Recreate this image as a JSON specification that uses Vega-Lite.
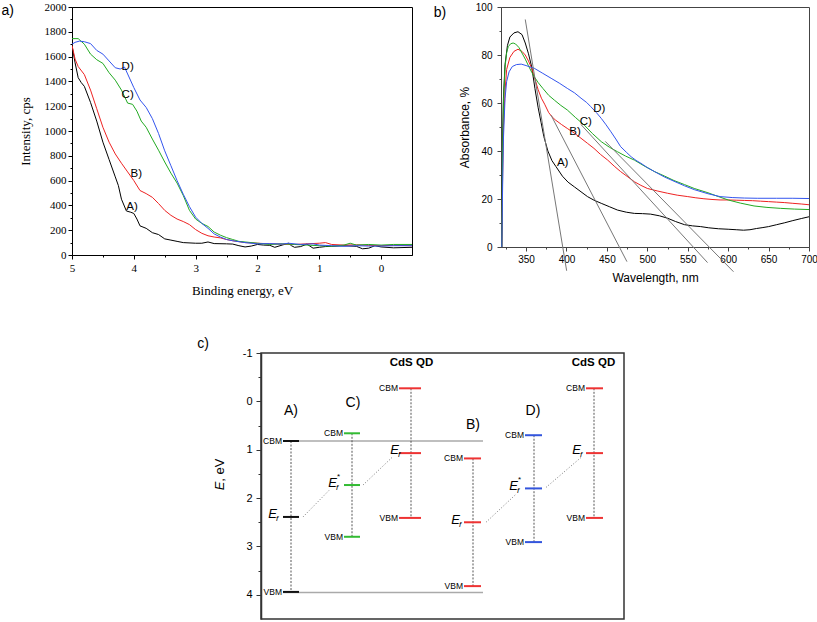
{
  "$schema": "https://vega.github.io/schema/vega-lite/v6.json",
  "padding": 0,
  "background": "white",
  "spacing": 38,
  "config": {"view": {"stroke": null}, "font": "Liberation Sans"},
  "resolve": {"scale": {"color": "independent"}},
  "datasets": {
    "xps": [
      {"s":"A","E":5,"I":1690},{"s":"A","E":4.95,"I":1550},{"s":"A","E":4.9,"I":1430},{"s":"A","E":4.85,"I":1390},{"s":"A","E":4.8,"I":1360},{"s":"A","E":4.7,"I":1230},{"s":"A","E":4.6,"I":1080},{"s":"A","E":4.5,"I":910},{"s":"A","E":4.4,"I":770},{"s":"A","E":4.3,"I":630},{"s":"A","E":4.25,"I":560},{"s":"A","E":4.2,"I":450},{"s":"A","E":4.12,"I":355},{"s":"A","E":4.05,"I":345},{"s":"A","E":4.0,"I":335},{"s":"A","E":3.95,"I":290},{"s":"A","E":3.9,"I":235},{"s":"A","E":3.8,"I":215},{"s":"A","E":3.7,"I":180},{"s":"A","E":3.6,"I":165},{"s":"A","E":3.5,"I":130},{"s":"A","E":3.4,"I":120},{"s":"A","E":3.3,"I":110},{"s":"A","E":3.2,"I":100},{"s":"A","E":3.0,"I":95},{"s":"A","E":2.9,"I":95},{"s":"A","E":2.8,"I":105},{"s":"A","E":2.7,"I":92},{"s":"A","E":2.5,"I":90},{"s":"A","E":2.4,"I":88},{"s":"A","E":2.3,"I":75},{"s":"A","E":2.2,"I":65},{"s":"A","E":2.1,"I":72},{"s":"A","E":2.0,"I":85},{"s":"A","E":1.9,"I":80},{"s":"A","E":1.8,"I":78},{"s":"A","E":1.72,"I":62},{"s":"A","E":1.6,"I":80},{"s":"A","E":1.5,"I":95},{"s":"A","E":1.45,"I":75},{"s":"A","E":1.4,"I":62},{"s":"A","E":1.3,"I":68},{"s":"A","E":1.2,"I":88},{"s":"A","E":1.1,"I":55},{"s":"A","E":1.0,"I":62},{"s":"A","E":0.9,"I":68},{"s":"A","E":0.8,"I":70},{"s":"A","E":0.6,"I":75},{"s":"A","E":0.4,"I":70},{"s":"A","E":0.3,"I":50},{"s":"A","E":0.2,"I":55},{"s":"A","E":0.1,"I":75},{"s":"A","E":0.0,"I":65},{"s":"A","E":-0.2,"I":58},{"s":"A","E":-0.5,"I":62},
      {"s":"B","E":5,"I":1690},{"s":"B","E":4.95,"I":1580},{"s":"B","E":4.9,"I":1520},{"s":"B","E":4.8,"I":1455},{"s":"B","E":4.7,"I":1330},{"s":"B","E":4.6,"I":1180},{"s":"B","E":4.5,"I":1030},{"s":"B","E":4.4,"I":910},{"s":"B","E":4.3,"I":815},{"s":"B","E":4.2,"I":740},{"s":"B","E":4.1,"I":670},{"s":"B","E":4.0,"I":600},{"s":"B","E":3.9,"I":520},{"s":"B","E":3.8,"I":495},{"s":"B","E":3.7,"I":465},{"s":"B","E":3.6,"I":415},{"s":"B","E":3.5,"I":360},{"s":"B","E":3.4,"I":320},{"s":"B","E":3.3,"I":290},{"s":"B","E":3.2,"I":270},{"s":"B","E":3.1,"I":245},{"s":"B","E":3.0,"I":205},{"s":"B","E":2.9,"I":175},{"s":"B","E":2.8,"I":155},{"s":"B","E":2.7,"I":145},{"s":"B","E":2.6,"I":138},{"s":"B","E":2.5,"I":125},{"s":"B","E":2.4,"I":115},{"s":"B","E":2.2,"I":100},{"s":"B","E":2.0,"I":95},{"s":"B","E":1.8,"I":90},{"s":"B","E":1.6,"I":88},{"s":"B","E":1.4,"I":85},{"s":"B","E":1.2,"I":90},{"s":"B","E":1.0,"I":95},{"s":"B","E":0.9,"I":100},{"s":"B","E":0.8,"I":85},{"s":"B","E":0.6,"I":80},{"s":"B","E":0.4,"I":82},{"s":"B","E":0.2,"I":78},{"s":"B","E":0.0,"I":75},{"s":"B","E":-0.2,"I":78},{"s":"B","E":-0.5,"I":75},
      {"s":"C","E":5,"I":1745},{"s":"C","E":4.9,"I":1745},{"s":"C","E":4.8,"I":1700},{"s":"C","E":4.7,"I":1620},{"s":"C","E":4.6,"I":1575},{"s":"C","E":4.5,"I":1545},{"s":"C","E":4.4,"I":1470},{"s":"C","E":4.3,"I":1410},{"s":"C","E":4.2,"I":1330},{"s":"C","E":4.1,"I":1225},{"s":"C","E":4.02,"I":1215},{"s":"C","E":3.95,"I":1160},{"s":"C","E":3.88,"I":1080},{"s":"C","E":3.8,"I":1030},{"s":"C","E":3.7,"I":935},{"s":"C","E":3.6,"I":845},{"s":"C","E":3.5,"I":750},{"s":"C","E":3.4,"I":660},{"s":"C","E":3.3,"I":580},{"s":"C","E":3.2,"I":480},{"s":"C","E":3.1,"I":360},{"s":"C","E":3.0,"I":290},{"s":"C","E":2.9,"I":255},{"s":"C","E":2.8,"I":230},{"s":"C","E":2.7,"I":185},{"s":"C","E":2.6,"I":160},{"s":"C","E":2.5,"I":140},{"s":"C","E":2.4,"I":125},{"s":"C","E":2.3,"I":110},{"s":"C","E":2.2,"I":105},{"s":"C","E":2.0,"I":95},{"s":"C","E":1.8,"I":85},{"s":"C","E":1.6,"I":90},{"s":"C","E":1.4,"I":85},{"s":"C","E":1.2,"I":80},{"s":"C","E":1.0,"I":75},{"s":"C","E":0.8,"I":70},{"s":"C","E":0.6,"I":80},{"s":"C","E":0.5,"I":95},{"s":"C","E":0.4,"I":80},{"s":"C","E":0.2,"I":85},{"s":"C","E":0.0,"I":80},{"s":"C","E":-0.2,"I":85},{"s":"C","E":-0.5,"I":85},
      {"s":"D","E":5,"I":1700},{"s":"D","E":4.95,"I":1715},{"s":"D","E":4.88,"I":1725},{"s":"D","E":4.8,"I":1720},{"s":"D","E":4.7,"I":1705},{"s":"D","E":4.6,"I":1650},{"s":"D","E":4.5,"I":1620},{"s":"D","E":4.4,"I":1565},{"s":"D","E":4.3,"I":1510},{"s":"D","E":4.22,"I":1500},{"s":"D","E":4.15,"I":1515},{"s":"D","E":4.1,"I":1460},{"s":"D","E":4.0,"I":1350},{"s":"D","E":3.9,"I":1250},{"s":"D","E":3.8,"I":1190},{"s":"D","E":3.7,"I":1100},{"s":"D","E":3.6,"I":980},{"s":"D","E":3.5,"I":840},{"s":"D","E":3.4,"I":720},{"s":"D","E":3.3,"I":600},{"s":"D","E":3.2,"I":490},{"s":"D","E":3.1,"I":390},{"s":"D","E":3.0,"I":305},{"s":"D","E":2.9,"I":255},{"s":"D","E":2.8,"I":215},{"s":"D","E":2.7,"I":170},{"s":"D","E":2.6,"I":145},{"s":"D","E":2.5,"I":125},{"s":"D","E":2.4,"I":115},{"s":"D","E":2.2,"I":100},{"s":"D","E":2.0,"I":90},{"s":"D","E":1.8,"I":92},{"s":"D","E":1.6,"I":88},{"s":"D","E":1.5,"I":95},{"s":"D","E":1.3,"I":85},{"s":"D","E":1.1,"I":90},{"s":"D","E":1.0,"I":80},{"s":"D","E":0.8,"I":75},{"s":"D","E":0.6,"I":70},{"s":"D","E":0.4,"I":75},{"s":"D","E":0.2,"I":72},{"s":"D","E":0.0,"I":72},{"s":"D","E":-0.2,"I":75},{"s":"D","E":-0.5,"I":75}
    ],
    "abs": [
      {"s":"A","wl":320,"A":0},{"s":"A","wl":321,"A":45},{"s":"A","wl":322,"A":62},{"s":"A","wl":324,"A":76},{"s":"A","wl":327,"A":84},{"s":"A","wl":330,"A":87.5},{"s":"A","wl":335,"A":89.2},{"s":"A","wl":340,"A":89.7},{"s":"A","wl":345,"A":88.5},{"s":"A","wl":349,"A":85},{"s":"A","wl":353,"A":80.5},{"s":"A","wl":357,"A":75},{"s":"A","wl":361,"A":66},{"s":"A","wl":365,"A":58},{"s":"A","wl":368.5,"A":52},{"s":"A","wl":372,"A":46},{"s":"A","wl":377,"A":40},{"s":"A","wl":382,"A":36},{"s":"A","wl":387,"A":33.5},{"s":"A","wl":395,"A":29.5},{"s":"A","wl":402,"A":27},{"s":"A","wl":410,"A":25},{"s":"A","wl":418,"A":23},{"s":"A","wl":426,"A":21},{"s":"A","wl":434,"A":19.5},{"s":"A","wl":443,"A":18.2},{"s":"A","wl":453,"A":16.8},{"s":"A","wl":463,"A":15.4},{"s":"A","wl":474,"A":14.5},{"s":"A","wl":484,"A":14},{"s":"A","wl":494,"A":13.9},{"s":"A","wl":504,"A":13.7},{"s":"A","wl":515,"A":13},{"s":"A","wl":525,"A":12},{"s":"A","wl":535,"A":10.6},{"s":"A","wl":546,"A":9.3},{"s":"A","wl":556,"A":8.8},{"s":"A","wl":566,"A":8.5},{"s":"A","wl":576,"A":8},{"s":"A","wl":588,"A":7.6},{"s":"A","wl":600,"A":7.4},{"s":"A","wl":610,"A":7.2},{"s":"A","wl":619,"A":7.0},{"s":"A","wl":627,"A":7.2},{"s":"A","wl":635,"A":7.7},{"s":"A","wl":643,"A":8.1},{"s":"A","wl":650,"A":8.5},{"s":"A","wl":660,"A":9.3},{"s":"A","wl":670,"A":10.1},{"s":"A","wl":680,"A":11},{"s":"A","wl":691,"A":11.9},{"s":"A","wl":700,"A":12.6},
      {"s":"B","wl":320,"A":0},{"s":"B","wl":321,"A":30},{"s":"B","wl":322,"A":50},{"s":"B","wl":324,"A":65},{"s":"B","wl":326,"A":74},{"s":"B","wl":330,"A":79},{"s":"B","wl":335,"A":81.5},{"s":"B","wl":340,"A":82.4},{"s":"B","wl":345,"A":81.5},{"s":"B","wl":349,"A":80},{"s":"B","wl":353,"A":77.5},{"s":"B","wl":357,"A":74.4},{"s":"B","wl":361,"A":70},{"s":"B","wl":365,"A":65.5},{"s":"B","wl":369,"A":62},{"s":"B","wl":373,"A":59.5},{"s":"B","wl":378,"A":56},{"s":"B","wl":382,"A":54.3},{"s":"B","wl":386,"A":53},{"s":"B","wl":394,"A":51},{"s":"B","wl":401,"A":49.4},{"s":"B","wl":410,"A":47.4},{"s":"B","wl":418,"A":45.3},{"s":"B","wl":426,"A":43.2},{"s":"B","wl":434,"A":41.1},{"s":"B","wl":442,"A":38.6},{"s":"B","wl":451,"A":36.2},{"s":"B","wl":459,"A":33.7},{"s":"B","wl":467,"A":31.4},{"s":"B","wl":476,"A":29.2},{"s":"B","wl":484,"A":27.2},{"s":"B","wl":492,"A":25.7},{"s":"B","wl":500,"A":24.4},{"s":"B","wl":513,"A":23.3},{"s":"B","wl":525,"A":22.4},{"s":"B","wl":537,"A":21.6},{"s":"B","wl":550,"A":21},{"s":"B","wl":560,"A":20.5},{"s":"B","wl":570,"A":20.1},{"s":"B","wl":580,"A":19.8},{"s":"B","wl":590,"A":19.6},{"s":"B","wl":600,"A":19.6},{"s":"B","wl":610,"A":19.5},{"s":"B","wl":620,"A":19.4},{"s":"B","wl":630,"A":19.3},{"s":"B","wl":640,"A":19.1},{"s":"B","wl":650,"A":18.9},{"s":"B","wl":660,"A":18.7},{"s":"B","wl":670,"A":18.5},{"s":"B","wl":680,"A":18.2},{"s":"B","wl":691,"A":17.9},{"s":"B","wl":700,"A":17.6},
      {"s":"C","wl":320,"A":0},{"s":"C","wl":321,"A":40},{"s":"C","wl":322,"A":60},{"s":"C","wl":324,"A":75},{"s":"C","wl":326,"A":81},{"s":"C","wl":328,"A":83.5},{"s":"C","wl":331,"A":84.7},{"s":"C","wl":334,"A":85},{"s":"C","wl":337,"A":84.6},{"s":"C","wl":341,"A":83.2},{"s":"C","wl":345,"A":80.8},{"s":"C","wl":349,"A":78.3},{"s":"C","wl":353,"A":75.5},{"s":"C","wl":357,"A":72.8},{"s":"C","wl":360,"A":71},{"s":"C","wl":365,"A":68.5},{"s":"C","wl":371,"A":66},{"s":"C","wl":378,"A":63.2},{"s":"C","wl":385,"A":61.2},{"s":"C","wl":393,"A":59},{"s":"C","wl":401,"A":57.1},{"s":"C","wl":411,"A":54},{"s":"C","wl":422,"A":50.8},{"s":"C","wl":432,"A":47.3},{"s":"C","wl":443,"A":43.9},{"s":"C","wl":453,"A":41.6},{"s":"C","wl":463,"A":39.7},{"s":"C","wl":473,"A":37.9},{"s":"C","wl":484,"A":36.2},{"s":"C","wl":496,"A":33.8},{"s":"C","wl":509,"A":31.4},{"s":"C","wl":521,"A":29.6},{"s":"C","wl":533,"A":27.7},{"s":"C","wl":546,"A":26},{"s":"C","wl":558,"A":24.4},{"s":"C","wl":575,"A":22.6},{"s":"C","wl":588,"A":21},{"s":"C","wl":600,"A":19.6},{"s":"C","wl":615,"A":18.3},{"s":"C","wl":632,"A":17.1},{"s":"C","wl":648,"A":16.5},{"s":"C","wl":665,"A":16.1},{"s":"C","wl":682,"A":15.8},{"s":"C","wl":700,"A":15.6},
      {"s":"D","wl":320,"A":0},{"s":"D","wl":321,"A":25},{"s":"D","wl":322,"A":45},{"s":"D","wl":324,"A":62},{"s":"D","wl":326,"A":69},{"s":"D","wl":329,"A":73},{"s":"D","wl":333,"A":75.2},{"s":"D","wl":338,"A":76},{"s":"D","wl":344,"A":76.2},{"s":"D","wl":350,"A":75.6},{"s":"D","wl":355,"A":75},{"s":"D","wl":360,"A":74.5},{"s":"D","wl":370,"A":72.5},{"s":"D","wl":381,"A":70.3},{"s":"D","wl":391,"A":68.3},{"s":"D","wl":401,"A":66.1},{"s":"D","wl":410,"A":64.2},{"s":"D","wl":418,"A":62},{"s":"D","wl":425,"A":60.2},{"s":"D","wl":430,"A":58.5},{"s":"D","wl":437,"A":56},{"s":"D","wl":443,"A":53.6},{"s":"D","wl":449,"A":50.9},{"s":"D","wl":455,"A":48},{"s":"D","wl":461,"A":45},{"s":"D","wl":467,"A":41.8},{"s":"D","wl":474,"A":39.5},{"s":"D","wl":480,"A":37.6},{"s":"D","wl":486,"A":36.1},{"s":"D","wl":492,"A":34.9},{"s":"D","wl":500,"A":33.1},{"s":"D","wl":509,"A":31.4},{"s":"D","wl":521,"A":29.2},{"s":"D","wl":533,"A":27.4},{"s":"D","wl":546,"A":25.5},{"s":"D","wl":558,"A":23.9},{"s":"D","wl":575,"A":22.2},{"s":"D","wl":590,"A":21},{"s":"D","wl":605,"A":20.6},{"s":"D","wl":620,"A":20.4},{"s":"D","wl":636,"A":20.3},{"s":"D","wl":660,"A":20.3},{"s":"D","wl":680,"A":20.3},{"s":"D","wl":700,"A":20.2}
    ]
  },
  "vconcat": [
    {
      "bounds": "flush",
      "spacing": 89,
      "hconcat": [
        {
          "width": 340,
          "height": 248,
          "view": {"stroke": "#000", "strokeWidth": 1},
          "encoding": {
            "x": {"field": "E", "type": "quantitative",
              "scale": {"domain": [5, -0.5], "nice": false, "zero": false},
              "axis": {"title": "Binding energy, eV", "values": [5, 4.5, 4, 3.5, 3, 2.5, 2, 1.5, 1, 0.5, 0],
                "labelExpr": "datum.value % 1 ? '' : format(datum.value, 'd')",
                "tickSize": {"condition": {"test": "datum.value % 1 !== 0", "value": 2}, "value": 4},
                "labelFont": "Liberation Serif", "labelFontSize": 11, "labelColor": "#000", "labelPadding": 3, "labelFlush": false,
                "titleFont": "Liberation Serif", "titleFontSize": 13, "titleFontWeight": "normal", "titleColor": "#000", "titlePadding": 11,
                "domainColor": "#000", "tickColor": "#000", "grid": false}},
            "y": {"field": "I", "type": "quantitative",
              "scale": {"domain": [0, 2000], "nice": false, "zero": false},
              "axis": {"title": "Intensity, cps", "values": [0,100,200,300,400,500,600,700,800,900,1000,1100,1200,1300,1400,1500,1600,1700,1800,1900,2000],
                "labelExpr": "datum.value % 200 ? '' : format(datum.value, 'd')",
                "tickSize": {"condition": {"test": "datum.value % 200 !== 0", "value": 2}, "value": 4},
                "labelFont": "Liberation Serif", "labelFontSize": 11, "labelColor": "#000", "labelPadding": 2,
                "titleFont": "Liberation Serif", "titleFontSize": 13, "titleFontWeight": "normal", "titleColor": "#000", "titlePadding": 12,
                "domainColor": "#000", "tickColor": "#000", "grid": false}}
          },
          "layer": [
            {"data": {"name": "xps"},
             "mark": {"type": "line", "strokeWidth": 1, "clip": true},
             "encoding": {"color": {"field": "s", "type": "nominal", "scale": {"domain": ["A", "B", "C", "D"], "range": ["#000000", "#ee2222", "#22aa22", "#3355ee"]}, "legend": null}}},
            {"data": {"values": [{"E": 4.03, "I": 389, "t": "A)"}, {"E": 3.96, "I": 652, "t": "B)"}, {"E": 4.1, "I": 1290, "t": "C)"}, {"E": 4.1, "I": 1518, "t": "D)"}]},
             "mark": {"type": "text", "font": "Liberation Sans", "fontSize": 11.5, "color": "#000"},
             "encoding": {"text": {"field": "t"}}},
            {"data": {"values": [{"E": 6.04, "I": 1968, "t": "a)"}]},
             "mark": {"type": "text", "font": "Liberation Sans", "fontSize": 14, "color": "#000"},
             "encoding": {"text": {"field": "t"}}}
          ]
        },
        {
          "width": 308,
          "height": 240,
          "view": {"stroke": "#444", "strokeWidth": 1},
          "encoding": {
            "x": {"field": "wl", "type": "quantitative",
              "scale": {"domain": [319, 700], "nice": false, "zero": false},
              "axis": {"title": "Wavelength, nm", "values": [325,350,375,400,425,450,475,500,525,550,575,600,625,650,675,700],
                "labelExpr": "datum.value % 50 ? '' : format(datum.value, 'd')",
                "tickSize": {"condition": {"test": "datum.value % 50 !== 0", "value": 2}, "value": 4},
                "labelFont": "Liberation Sans", "labelFontSize": 10, "labelColor": "#000", "labelPadding": 3, "labelFlush": false,
                "titleFont": "Liberation Sans", "titleFontSize": 12, "titleFontWeight": "normal", "titleColor": "#000", "titlePadding": 8,
                "domainColor": "#444", "tickColor": "#444", "grid": false}},
            "y": {"field": "A", "type": "quantitative",
              "scale": {"domain": [0, 100], "nice": false, "zero": false},
              "axis": {"title": "Absorbance, %", "values": [0,10,20,30,40,50,60,70,80,90,100],
                "labelExpr": "datum.value % 20 ? '' : format(datum.value, 'd')",
                "tickSize": {"condition": {"test": "datum.value % 20 !== 0", "value": 2}, "value": 4},
                "labelFont": "Liberation Sans", "labelFontSize": 10, "labelColor": "#000", "labelPadding": 5,
                "titleFont": "Liberation Sans", "titleFontSize": 12, "titleFontWeight": "normal", "titleColor": "#000", "titlePadding": 4,
                "domainColor": "#444", "tickColor": "#444", "grid": false}}
          },
          "layer": [
            {"data": {"name": "abs"},
             "mark": {"type": "line", "strokeWidth": 1, "clip": true},
             "encoding": {"color": {"field": "s", "type": "nominal", "scale": {"domain": ["A", "B", "C", "D"], "range": ["#000000", "#ee2222", "#22aa22", "#3355ee"]}, "legend": null}}},
            {"data": {"values": [
                {"wl": 349, "A": 94.8, "wl2": 400.2, "A2": -9.9},
                {"wl": 380.8, "A": 55, "wl2": 474.8, "A2": -6.1},
                {"wl": 418, "A": 51, "wl2": 574.5, "A2": -6.5},
                {"wl": 448, "A": 44, "wl2": 606.6, "A2": -10.3}]},
             "mark": {"type": "rule", "color": "#777", "strokeWidth": 1, "clip": false},
             "encoding": {"x2": {"field": "wl2"}, "y2": {"field": "A2"}}},
            {"data": {"values": [{"wl": 395.3, "A": 34.9, "t": "A)"}, {"wl": 410.5, "A": 48, "t": "B)"}, {"wl": 424, "A": 52.2, "t": "C)"}, {"wl": 440.5, "A": 57.4, "t": "D)"}]},
             "mark": {"type": "text", "font": "Liberation Sans", "fontSize": 11.5, "color": "#000"},
             "encoding": {"text": {"field": "t"}}},
            {"data": {"values": [{"wl": 243.6, "A": 97.7, "t": "b)"}]},
             "mark": {"type": "text", "font": "Liberation Sans", "fontSize": 14, "color": "#000"},
             "encoding": {"text": {"field": "t"}}}
          ]
        }
      ]
    },
    {
      "bounds": "flush",
      "spacing": 0,
      "hconcat": [
        {
          "width": 189,
          "height": 266,
          "data": {"values": [{}]},
          "mark": {"type": "point", "opacity": 0},
          "encoding": {}
        },
        {
          "width": 363,
          "height": 266,
          "view": {"stroke": "#333", "strokeWidth": 1.5},
          "encoding": {
            "x": {"field": "x", "type": "quantitative", "scale": {"domain": [0, 363], "nice": false, "zero": false}, "axis": null},
            "y": {"field": "y", "type": "quantitative",
              "scale": {"domain": [-1, 4.5], "reverse": true, "nice": false, "zero": false},
              "axis": {"title": null, "values": [-1,-0.5,0,0.5,1,1.5,2,2.5,3,3.5,4],
                "labelExpr": "datum.value % 1 ? '' : '' + datum.value",
                "tickSize": {"condition": {"test": "datum.value % 1 !== 0", "value": 3}, "value": 5},
                "labelFont": "Liberation Sans", "labelFontSize": 11, "labelColor": "#000", "labelPadding": 4,
                "domainColor": "#333", "domainWidth": 1.5, "tickColor": "#333", "grid": false}}
          },
          "layer": [
            {"data": {"values": [{"x": 22, "x2": 222, "y": 0.82}, {"x": 22, "x2": 222, "y": 3.95}]},
             "mark": {"type": "rule", "color": "#aaaaaa", "strokeWidth": 1.5},
             "encoding": {"x2": {"field": "x2"}}},
            {"data": {"values": [
                {"x": 30, "y": 0.82, "y2": 3.94}, {"x": 91, "y": 0.66, "y2": 2.8}, {"x": 150, "y": -0.27, "y2": 2.41},
                {"x": 212, "y": 1.18, "y2": 3.82}, {"x": 273, "y": 0.7, "y2": 2.91}, {"x": 333, "y": -0.27, "y2": 2.41}]},
             "mark": {"type": "rule", "color": "#555", "strokeWidth": 1, "strokeDash": [2, 1.5]},
             "encoding": {"y2": {"field": "y2"}}},
            {"data": {"values": [
                {"x": 42, "y": 2.39, "x2": 69, "y2": 1.82}, {"x": 102, "y": 1.73, "x2": 131, "y2": 1.16},
                {"x": 225, "y": 2.5, "x2": 255, "y2": 1.92}, {"x": 285, "y": 1.78, "x2": 320, "y2": 1.16}]},
             "mark": {"type": "rule", "color": "#777", "strokeWidth": 1, "strokeDash": [1, 2]},
             "encoding": {"x2": {"field": "x2"}, "y2": {"field": "y2"}}},
            {"data": {"values": [
                {"set": "A", "x": 22, "x2": 38, "y": 0.82}, {"set": "A", "x": 22, "x2": 38, "y": 2.39}, {"set": "A", "x": 22, "x2": 38, "y": 3.94},
                {"set": "C", "x": 83, "x2": 99, "y": 0.66}, {"set": "C", "x": 83, "x2": 99, "y": 1.73}, {"set": "C", "x": 83, "x2": 99, "y": 2.8},
                {"set": "CdS", "x": 138, "x2": 160, "y": -0.27}, {"set": "CdS", "x": 138, "x2": 160, "y": 1.07}, {"set": "CdS", "x": 138, "x2": 160, "y": 2.41},
                {"set": "B", "x": 203, "x2": 220, "y": 1.18}, {"set": "B", "x": 203, "x2": 220, "y": 2.5}, {"set": "B", "x": 203, "x2": 220, "y": 3.82},
                {"set": "D", "x": 264, "x2": 281, "y": 0.7}, {"set": "D", "x": 264, "x2": 281, "y": 1.8}, {"set": "D", "x": 264, "x2": 281, "y": 2.91},
                {"set": "CdS", "x": 325, "x2": 342, "y": -0.27}, {"set": "CdS", "x": 325, "x2": 342, "y": 1.07}, {"set": "CdS", "x": 325, "x2": 342, "y": 2.41}]},
             "mark": {"type": "rule", "strokeWidth": 2},
             "encoding": {"x2": {"field": "x2"},
               "color": {"field": "set", "type": "nominal", "scale": {"domain": ["A", "B", "C", "D", "CdS"], "range": ["#111111", "#ee3333", "#33bb33", "#3355dd", "#ee3333"]}, "legend": null}}},
            {"data": {"values": [
                {"x": 21, "y": 0.82, "t": "CBM"}, {"x": 21, "y": 3.94, "t": "VBM"},
                {"x": 82, "y": 0.66, "t": "CBM"}, {"x": 82, "y": 2.8, "t": "VBM"},
                {"x": 137, "y": -0.27, "t": "CBM"}, {"x": 137, "y": 2.41, "t": "VBM"},
                {"x": 202, "y": 1.18, "t": "CBM"}, {"x": 202, "y": 3.82, "t": "VBM"},
                {"x": 263, "y": 0.7, "t": "CBM"}, {"x": 263, "y": 2.91, "t": "VBM"},
                {"x": 324, "y": -0.27, "t": "CBM"}, {"x": 324, "y": 2.41, "t": "VBM"}]},
             "mark": {"type": "text", "font": "Liberation Sans", "fontSize": 8.5, "align": "right", "baseline": "middle", "color": "#000"},
             "encoding": {"text": {"field": "t"}}},
            {"data": {"values": [
                {"x": 16, "y": 2.33, "star": false}, {"x": 76, "y": 1.68, "star": true}, {"x": 138, "y": 1.0, "star": false},
                {"x": 199, "y": 2.45, "star": false}, {"x": 257, "y": 1.75, "star": true}, {"x": 320, "y": 1.0, "star": false}]},
             "layer": [
               {"mark": {"type": "text", "text": "E", "font": "Liberation Sans", "fontStyle": "italic", "fontSize": 13, "align": "right", "baseline": "middle", "color": "#000"}},
               {"mark": {"type": "text", "text": "f", "font": "Liberation Sans", "fontStyle": "italic", "fontSize": 8, "align": "left", "baseline": "middle", "dx": -1, "dy": 5, "color": "#000"}},
               {"transform": [{"filter": "datum.star"}],
                "mark": {"type": "text", "text": "*", "font": "Liberation Sans", "fontSize": 8, "align": "left", "baseline": "middle", "dx": 0, "dy": -6, "color": "#000"}}
             ]},
            {"data": {"values": [{"x": 30, "y": 0.2, "t": "A)"}, {"x": 92, "y": 0.03, "t": "C)"}, {"x": 212, "y": 0.48, "t": "B)"}, {"x": 272, "y": 0.2, "t": "D)"}, {"x": -58, "y": -1.19, "t": "c)"}]},
             "mark": {"type": "text", "font": "Liberation Sans", "fontSize": 14, "align": "center", "baseline": "middle", "color": "#000"},
             "encoding": {"text": {"field": "t"}}},
            {"data": {"values": [{"x": 150.5, "y": -0.79, "t": "CdS QD"}, {"x": 332.5, "y": -0.79, "t": "CdS QD"}]},
             "mark": {"type": "text", "font": "Liberation Sans", "fontSize": 11.5, "fontWeight": "bold", "align": "center", "baseline": "middle", "color": "#000"},
             "encoding": {"text": {"field": "t"}}},
            {"data": {"values": [{"x": -41, "y": 1.66}]},
             "layer": [
               {"mark": {"type": "text", "text": "E", "font": "Liberation Sans", "fontStyle": "italic", "fontSize": 13, "angle": 270, "align": "right", "baseline": "middle", "color": "#000"}},
               {"mark": {"type": "text", "text": ", eV", "font": "Liberation Sans", "fontSize": 13, "angle": 270, "align": "left", "baseline": "middle", "color": "#000"}}
             ]}
          ]
        }
      ]
    }
  ]
}
